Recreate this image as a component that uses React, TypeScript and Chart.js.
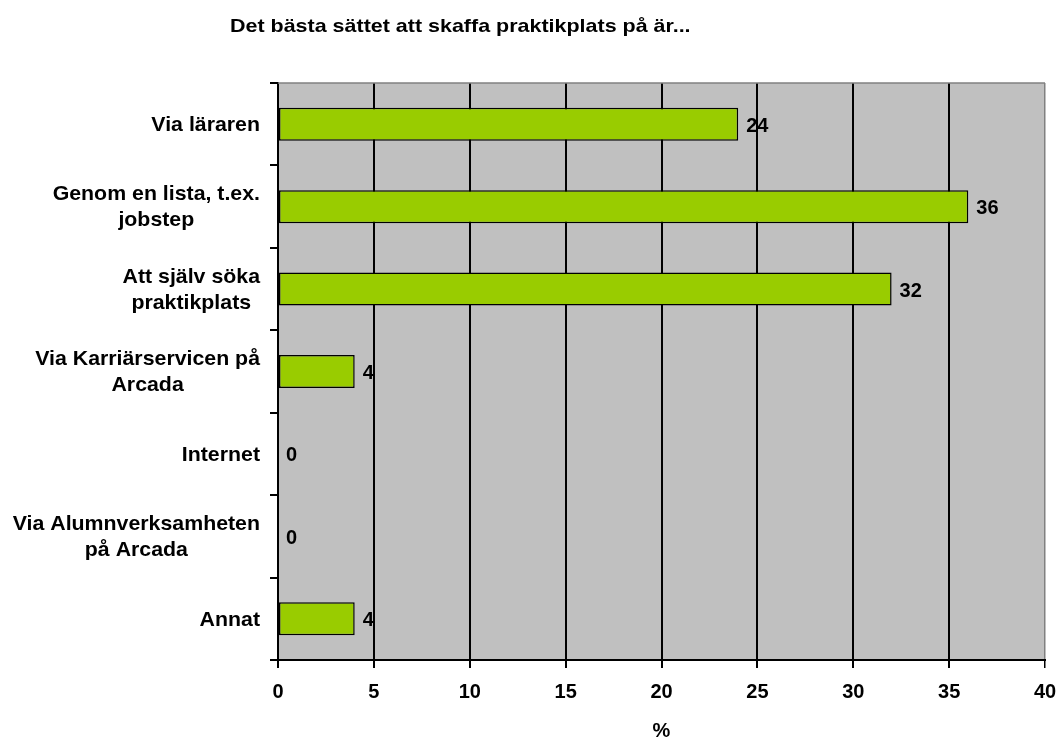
import React, { useEffect, useRef } from "react";
import { Chart, registerables } from "chart.js";

Chart.register(...registerables);

const chartTitle = "Det bästa sättet att skaffa praktikplats på är...";
const categories: string[][] = [
  ["Via läraren"],
  ["Genom en lista, t.ex.", "jobstep"],
  ["Att själv söka", "praktikplats"],
  ["Via Karriärservicen på", "Arcada"],
  ["Internet"],
  ["Via Alumnverksamheten", "på Arcada"],
  ["Annat"],
];
const values = [24, 36, 32, 4, 0, 0, 4];
const xMin = 0;
const xMax = 40;
const xStep = 5;
const xAxisTitle = "%";

const FONT = '"Liberation Sans", Arial, sans-serif';

function stretchedText(ctx: any, text: string, x: number, y: number, sx: number) {
  ctx.save();
  ctx.translate(x, y);
  ctx.scale(sx, 1);
  ctx.fillText(text, 0, 0);
  ctx.restore();
}

const decorPlugin = {
  id: "decor",
  beforeDraw(chart: any) {
    const { ctx, chartArea } = chart;
    ctx.save();
    ctx.fillStyle = "#C0C0C0";
    ctx.fillRect(chartArea.left, chartArea.top, chartArea.right - chartArea.left, chartArea.bottom - chartArea.top);
    ctx.restore();
  },
  beforeDatasetsDraw(chart: any) {
    const { ctx, chartArea } = chart;
    ctx.save();
    ctx.strokeStyle = "#808080";
    ctx.lineWidth = 1.5;
    ctx.beginPath();
    ctx.moveTo(chartArea.left, chartArea.top);
    ctx.lineTo(chartArea.right, chartArea.top);
    ctx.stroke();
    ctx.restore();
  },
  afterDraw(chart: any) {
    const { ctx } = chart;
    const yScale = chart.scales.y;
    const xScale = chart.scales.x;
    ctx.save();
    ctx.fillStyle = "#000";
    ctx.textBaseline = "alphabetic";

    // title
    ctx.font = `bold 19px ${FONT}`;
    ctx.textAlign = "left";
    stretchedText(ctx, chartTitle, 230, 32, 1.13);

    // category labels
    const labelScale = 1.04;
    ctx.font = `bold 20.5px ${FONT}`;
    ctx.textAlign = "center";
    const rightEdge = 260;
    categories.forEach((lines, i) => {
      const cy = yScale.getPixelForValue(i);
      const maxW = Math.max(...lines.map((l) => ctx.measureText(l).width)) * labelScale;
      const cx = rightEdge - maxW / 2;
      lines.forEach((line, j) => {
        const by = cy + 6.8 + (j - (lines.length - 1) / 2) * 26;
        stretchedText(ctx, line, cx, by, labelScale);
      });
    });

    // data labels
    ctx.font = `bold 20px ${FONT}`;
    ctx.textAlign = "left";
    values.forEach((v, i) => {
      const cy = yScale.getPixelForValue(i);
      const x = xScale.getPixelForValue(v) + 8;
      ctx.fillText(String(v), x, cy + 7.5);
    });
    ctx.restore();
  },
};

export default function App() {
  const canvasRef = useRef<HTMLCanvasElement | null>(null);

  useEffect(() => {
    document.body.style.margin = "0";
    const canvas = canvasRef.current;
    if (!canvas) return;
    const chart = new Chart(canvas, {
      type: "bar",
      data: {
        labels: categories.map((c) => c.join(" ")),
        datasets: [
          {
            data: values,
            backgroundColor: "#99CC00",
            borderColor: "#000000",
            borderWidth: 1.5,
            borderSkipped: false,
            barPercentage: 0.4,
            categoryPercentage: 1,
          },
        ],
      },
      options: {
        indexAxis: "y",
        animation: false,
        responsive: true,
        maintainAspectRatio: false,
        layout: { padding: { top: 83, right: 15, bottom: 0, left: 0 } },
        plugins: {
          legend: { display: false },
          title: { display: false },
          tooltip: { enabled: false },
        },
        scales: {
          y: {
            type: "category",
            ticks: { display: false },
            grid: {
              display: true,
              drawOnChartArea: false,
              drawTicks: true,
              tickLength: 8,
              color: "#000",
              lineWidth: 2,
              offset: true,
            },
            border: { display: true, color: "#000", width: 2 },
            afterFit: (scale: any) => {
              scale.width = 278;
              scale.paddingTop = 0;
              scale.paddingBottom = 0;
            },
          },
          x: {
            type: "linear",
            min: xMin,
            max: xMax,
            ticks: {
              stepSize: xStep,
              color: "#000",
              font: { family: FONT, size: 20, weight: "bold" },
              padding: 12,
            },
            grid: {
              color: (ctx: any) => (ctx.tick && ctx.tick.value === xMax ? "#808080" : "#000"),
              lineWidth: (ctx: any) => (ctx.tick && ctx.tick.value === xMax ? 1.5 : 2),
              tickColor: "#000",
              drawTicks: true,
              tickLength: 8,
            },
            border: { display: true, color: "#000", width: 2 },
            title: {
              display: true,
              text: xAxisTitle,
              color: "#000",
              font: { family: FONT, size: 20, weight: "bold", lineHeight: 0.9 },
              padding: { top: 0, bottom: 0 },
            },
            afterFit: (scale: any) => {
              scale.height = 80;
              scale.paddingLeft = 0;
              scale.paddingRight = 0;
            },
          },
        },
      },
      plugins: [decorPlugin],
    });
    return () => chart.destroy();
  }, []);

  return (
    <div style={{ width: 1060, height: 740, position: "relative" }}>
      <canvas ref={canvasRef} />
    </div>
  );
}
